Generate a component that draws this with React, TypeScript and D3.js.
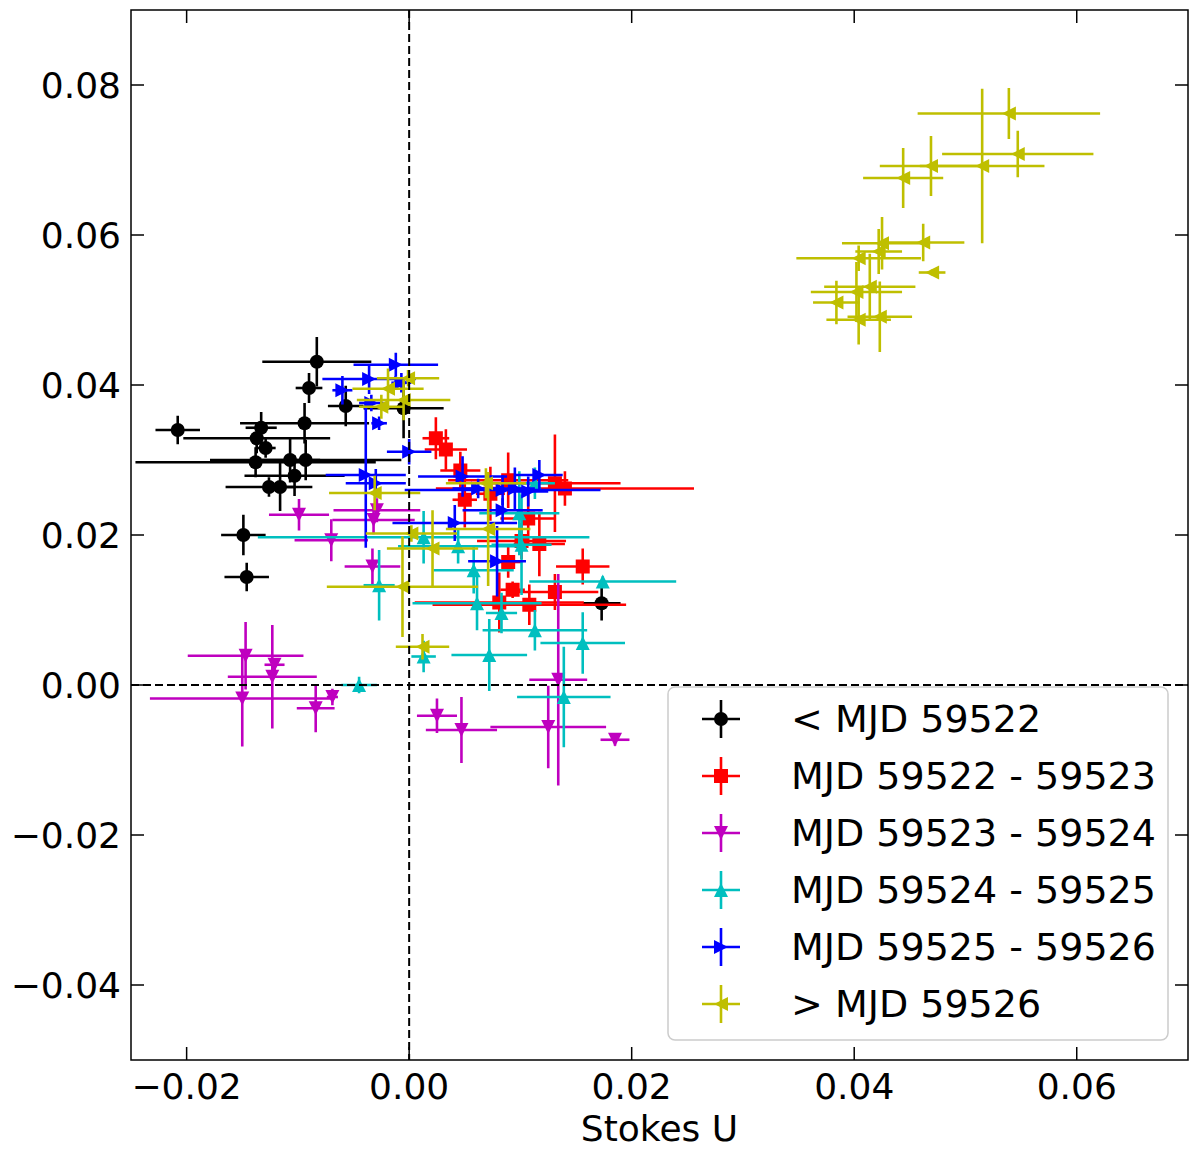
import * as d3 from "d3";

// [u, q, uErr, qErr]
const before59522 = [
  [-0.0208, 0.034, 0.002, 0.0019],
  [-0.0083, 0.0431, 0.0049, 0.0033],
  [-0.009, 0.0396, 0.0012, 0.002],
  [-0.0057, 0.0372, 0.0016, 0.0027],
  [-0.0005, 0.0369, 0.0036, 0.004],
  [-0.0133, 0.0343, 0.0014, 0.0021],
  [-0.0137, 0.0329, 0.0066, 0.002],
  [-0.0129, 0.0316, 0.0009, 0.0013],
  [-0.0094, 0.0349, 0.0058, 0.0027],
  [-0.0138, 0.0297, 0.0108, 0.002],
  [-0.0093, 0.03, 0.0086, 0.0027],
  [-0.0107, 0.03, 0.0027, 0.003],
  [-0.0103, 0.0279, 0.0045, 0.0027],
  [-0.0126, 0.0264, 0.0039, 0.0013],
  [-0.0116, 0.0264, 0.0014, 0.0032],
  [-0.0149, 0.02, 0.002, 0.0027],
  [-0.0146, 0.0144, 0.002, 0.0019],
  [0.0173, 0.0109, 0.0017, 0.0023],
];

const mjd59522to59523 = [
  [0.0024, 0.0329, 0.0012, 0.0028],
  [0.0033, 0.0314, 0.0019, 0.0027],
  [0.0046, 0.0286, 0.0018, 0.0025],
  [0.0089, 0.0273, 0.0054, 0.0037],
  [0.0131, 0.0269, 0.0059, 0.0065],
  [0.014, 0.0262, 0.0116, 0.0023],
  [0.0073, 0.0255, 0.0013, 0.0036],
  [0.005, 0.0247, 0.0011, 0.0037],
  [0.0107, 0.0222, 0.0025, 0.0033],
  [0.0101, 0.0192, 0.004, 0.0024],
  [0.0117, 0.0188, 0.0023, 0.0043],
  [0.0089, 0.0164, 0.0012, 0.0021],
  [0.0156, 0.0158, 0.0024, 0.0024],
  [0.0093, 0.0127, 0.0011, 0.0011],
  [0.0131, 0.0124, 0.0039, 0.0024],
  [0.0081, 0.011, 0.0076, 0.004],
  [0.0108, 0.0107, 0.0087, 0.0027],
];

const mjd59523to59524 = [
  [-0.0099, 0.0227, 0.0027, 0.0021],
  [-0.0029, 0.0233, 0.0039, 0.0016],
  [-0.0032, 0.022, 0.0037, 0.0019],
  [-0.007, 0.0193, 0.0033, 0.0028],
  [-0.0033, 0.0158, 0.0025, 0.0024],
  [-0.0147, 0.0039, 0.0052, 0.0045],
  [-0.0121, 0.0027, 0.0009, 0.0008],
  [-0.0123, 0.0011, 0.004, 0.0069],
  [-0.015, -0.0018, 0.0083, 0.0064],
  [-0.0084, -0.0031, 0.0017, 0.0032],
  [-0.0069, -0.0016, 0.0005, 0.0011],
  [0.0025, -0.0041, 0.0018, 0.0023],
  [0.0047, -0.006, 0.0032, 0.0044],
  [0.0125, -0.0056, 0.0052, 0.0055],
  [0.0134, 0.0007, 0.0026, 0.0141],
  [0.0185, -0.0073, 0.0013, 0.0008],
];

const mjd59524to59525 = [
  [0.0113, 0.0269, 0.0018, 0.0021],
  [0.0099, 0.0229, 0.0036, 0.0056],
  [0.0013, 0.0197, 0.0149, 0.0035],
  [0.0044, 0.0185, 0.0054, 0.0023],
  [0.0101, 0.0187, 0.0027, 0.0067],
  [0.0058, 0.0153, 0.0036, 0.0031],
  [0.0174, 0.0138, 0.0066, 0.0007],
  [0.0061, 0.0109, 0.0058, 0.0036],
  [0.0083, 0.0096, 0.0014, 0.0027],
  [0.0113, 0.0073, 0.0047, 0.0027],
  [0.0156, 0.0056, 0.0038, 0.0041],
  [0.0072, 0.004, 0.0034, 0.0048],
  [0.0013, 0.0038, 0.0011, 0.0021],
  [-0.0045, 0.0, 0.0016, 0.0011],
  [0.0139, -0.0016, 0.0042, 0.0067],
  [-0.0027, 0.0133, 0.0014, 0.0047],
];

const mjd59525to59526 = [
  [-0.0012, 0.0427, 0.0038, 0.0016],
  [-0.0036, 0.0408, 0.0042, 0.002],
  [-0.006, 0.0393, 0.0009, 0.0019],
  [-0.0007, 0.0403, 0.0009, 0.0013],
  [-0.0034, 0.0376, 0.0011, 0.0011],
  [-0.0027, 0.0349, 0.0007, 0.0009],
  [0.0, 0.0311, 0.002, 0.0017],
  [-0.0039, 0.028, 0.0036, 0.0097],
  [-0.003, 0.0269, 0.0027, 0.0019],
  [0.0048, 0.0278, 0.004, 0.0027],
  [0.0117, 0.028, 0.0021, 0.002],
  [0.0084, 0.026, 0.0088, 0.002],
  [0.0095, 0.0262, 0.0018, 0.0028],
  [0.0107, 0.0258, 0.0018, 0.002],
  [0.0062, 0.0262, 0.0023, 0.0013],
  [0.0084, 0.0233, 0.0036, 0.0016],
  [0.0041, 0.0216, 0.0056, 0.0024],
  [0.0079, 0.0165, 0.0026, 0.0047],
];

const after59526 = [
  [0.0539, 0.0762, 0.0082, 0.0034],
  [0.0547, 0.0708, 0.0068, 0.0031],
  [0.0515, 0.0692, 0.0056, 0.0103],
  [0.0469, 0.0692, 0.0046, 0.004],
  [0.0444, 0.0676, 0.0036, 0.004],
  [0.0462, 0.059, 0.0037, 0.0025],
  [0.0425, 0.0589, 0.0036, 0.0035],
  [0.0422, 0.0578, 0.0021, 0.003],
  [0.0404, 0.0569, 0.0056, 0.0017],
  [0.047, 0.055, 0.0012, 0.0004],
  [0.0414, 0.0531, 0.0041, 0.0044],
  [0.0402, 0.0524, 0.0041, 0.004],
  [0.0384, 0.051, 0.0021, 0.0029],
  [0.0423, 0.0491, 0.0029, 0.0047],
  [0.0404, 0.0487, 0.0029, 0.0033],
  [-0.0001, 0.0409, 0.0028, 0.0011],
  [-0.0019, 0.0395, 0.0032, 0.0027],
  [-0.0005, 0.038, 0.0042, 0.0027],
  [-0.0025, 0.0371, 0.002, 0.0016],
  [-0.0031, 0.0256, 0.0041, 0.0023],
  [0.0069, 0.0269, 0.0036, 0.002],
  [0.0071, 0.0208, 0.0038, 0.0076],
  [0.0002, 0.0202, 0.0041, 0.0011],
  [0.0021, 0.0182, 0.0041, 0.0051],
  [-0.0006, 0.0131, 0.0068, 0.0067],
  [0.0012, 0.0051, 0.0024, 0.0017],
];

const seriesLabels = [
  "< MJD 59522",
  "MJD 59522 - 59523",
  "MJD 59523 - 59524",
  "MJD 59524 - 59525",
  "MJD 59525 - 59526",
  "> MJD 59526",
];
const seriesColors = ["#000000", "#ff0000", "#bf00bf", "#00bfbf", "#0000ff", "#bfbf00"];
const seriesMarkers = ["circle", "square", "down", "up", "right", "left"];
const seriesData = [
  before59522,
  mjd59522to59523,
  mjd59523to59524,
  mjd59524to59525,
  mjd59525to59526,
  after59526,
];

const xTicks = [-0.02, 0, 0.02, 0.04, 0.06];
const yTicks = [-0.04, -0.02, 0, 0.02, 0.04, 0.06, 0.08];

const W = 1200;
const H = 1150;
const left = 131;
const right = 1188;
const top = 10;
const bottom = 1060;
const font = "'DejaVu Sans', sans-serif";

const x = d3.scaleLinear().domain([-0.025, 0.07]).range([left, right]);
const y = d3.scaleLinear().domain([-0.05, 0.09]).range([bottom, top]);
const fmt = d3.format(".2f");

const Marker = ({ kind, cx, cy, color }: { kind: string; cx: number; cy: number; color: string }) => {
  const s = 7;
  if (kind === "circle") return <circle cx={cx} cy={cy} r={s} fill={color} />;
  if (kind === "square") return <rect x={cx - s} y={cy - s} width={2 * s} height={2 * s} fill={color} />;
  const pts: Record<string, string> = {
    up: `M0,${-s}L${-s},${s}L${s},${s}Z`,
    down: `M0,${s}L${-s},${-s}L${s},${-s}Z`,
    right: `M${s},0L${-s},${-s}L${-s},${s}Z`,
    left: `M${-s},0L${s},${-s}L${s},${s}Z`,
  };
  return <path d={pts[kind]} transform={`translate(${cx},${cy})`} fill={color} />;
};

export default function App() {
  const tickLen = 13;
  const legendX = 668;
  const legendY = 687;
  const rowH = 57;
  return (
    <div style={{ position: "absolute", left: 0, top: 0 }}>
      <svg width={W} height={H} style={{ display: "block", background: "#fff" }} fontFamily={font}>
        <defs>
          <clipPath id="plot">
            <rect x={left} y={top} width={right - left} height={bottom - top} />
          </clipPath>
        </defs>

        <g clipPath="url(#plot)">
          {seriesData.map((pts, si) => (
            <g key={si}>
              {pts.map(([u, q, ue, qe], i) => (
                <g key={i} stroke={seriesColors[si]} strokeWidth={2.6}>
                  <line x1={x(u - ue)} x2={x(u + ue)} y1={y(q)} y2={y(q)} />
                  <line x1={x(u)} x2={x(u)} y1={y(q - qe)} y2={y(q + qe)} />
                </g>
              ))}
              {pts.map(([u, q], i) => (
                <Marker key={i} kind={seriesMarkers[si]} cx={x(u)} cy={y(q)} color={seriesColors[si]} />
              ))}
            </g>
          ))}
          <line x1={x(0)} x2={x(0)} y1={top} y2={bottom} stroke="#000" strokeWidth={2} strokeDasharray="8,4" />
          <line x1={left} x2={right} y1={y(0)} y2={y(0)} stroke="#000" strokeWidth={2} strokeDasharray="8,4" />
        </g>

        {/* ticks, all pointing inward */}
        <g stroke="#000" strokeWidth={1.5}>
          {xTicks.map((t) => (
            <g key={t}>
              <line x1={x(t)} x2={x(t)} y1={bottom} y2={bottom - tickLen} />
              <line x1={x(t)} x2={x(t)} y1={top} y2={top + tickLen} />
            </g>
          ))}
          {yTicks.map((t) => (
            <g key={t}>
              <line x1={left} x2={left + tickLen} y1={y(t)} y2={y(t)} />
              <line x1={right} x2={right - tickLen} y1={y(t)} y2={y(t)} />
            </g>
          ))}
        </g>
        <g fontSize={36} fill="#000">
          {xTicks.map((t) => (
            <text key={t} x={x(t)} y={bottom + 13} textAnchor="middle" dominantBaseline="hanging">
              {fmt(t)}
            </text>
          ))}
          {yTicks.map((t) => (
            <text key={t} x={left - 10} y={y(t)} textAnchor="end" dominantBaseline="central">
              {fmt(t)}
            </text>
          ))}
          <text x={(left + right) / 2} y={1128} textAnchor="middle" dominantBaseline="central">
            Stokes U
          </text>
        </g>

        <rect x={left} y={top} width={right - left} height={bottom - top} fill="none" stroke="#000" strokeWidth={1.5} />

        {/* legend */}
        <rect x={legendX} y={legendY} width={500} height={353} rx={7} fill="#fff" fillOpacity={0.8} stroke="#cccccc" strokeWidth={1.5} />
        {seriesLabels.map((lab, i) => {
          const cy = legendY + 32 + i * rowH;
          const cx = 721;
          return (
            <g key={lab}>
              <g stroke={seriesColors[i]} strokeWidth={2.6}>
                <line x1={cx - 19} x2={cx + 19} y1={cy} y2={cy} />
                <line x1={cx} x2={cx} y1={cy - 19} y2={cy + 19} />
              </g>
              <Marker kind={seriesMarkers[i]} cx={cx} cy={cy} color={seriesColors[i]} />
              <text x={791} y={cy} fontSize={38} dominantBaseline="central" fill="#000">
                {lab}
              </text>
            </g>
          );
        })}
      </svg>
    </div>
  );
}
